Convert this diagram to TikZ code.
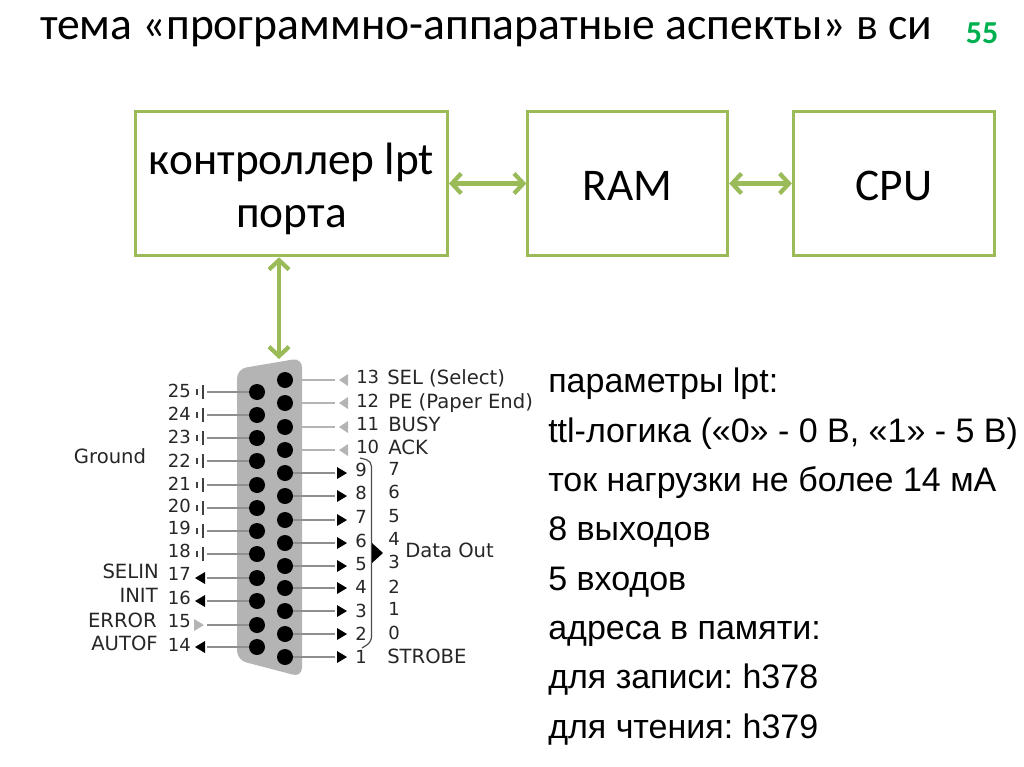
\documentclass[tikz,border=0pt]{standalone}
\usepackage{fontspec}
\setmainfont{Liberation Sans}
\newfontfamily\slidefont{Carlito}
\newfontfamily\pinfont{DejaVu Sans}
\usetikzlibrary{arrows.meta,positioning}
\definecolor{slidegreen}{HTML}{9BBB59}
\definecolor{pagegreen}{HTML}{00B050}
\definecolor{shellgray}{HTML}{B4B4B4}
\definecolor{leadgray}{HTML}{8E8E8E}
\frenchspacing

\begin{document}
\begin{tikzpicture}[
  x=0.75pt, y=-0.75pt,
  box/.style={draw=slidegreen, line width=2.2pt, align=center, minimum height=108.5pt, font=\slidefont\fontsize{34}{39.7}\selectfont},
  arrow/.style={{Straight Barb[length=7pt,width=15pt]}-{Straight Barb[length=7pt,width=15pt]}, slidegreen, line width=3.2pt},
  pin/.style={circle, fill=black, inner sep=0pt, minimum size=12pt},
  lead/.style={leadgray, line width=1.8pt},
  pinnum/.style={font=\pinfont\fontsize{13.5}{14}\selectfont, text=black!85, inner sep=0pt, text height=9.9pt, text depth=0pt},
  pinlabel/.style={font=\pinfont\fontsize{14.7}{16}\selectfont, text=black!85, inner sep=0pt, text height=10.7pt, text depth=0pt}
]
\useasboundingbox (0,0) rectangle (1024,767);
\node[font=\slidefont\fontsize{34.2}{40}\selectfont, anchor=west, inner sep=0pt] (title) at (40,32) {тема «программно-аппаратные аспекты» в си};
\node[font=\slidefont\bfseries\fontsize{24}{28}\selectfont, text=pagegreen, inner sep=0pt] (page) at (982,33) {55};

\node[box, minimum width=234pt] (lpt) at (291.5,183.5) {\rule{0pt}{32pt}контроллер lpt\\порта};
\node[box, minimum width=150pt, right=58pt of lpt, text height=25pt, text depth=0pt] (ram) {RAM};
\node[box, minimum width=151pt, right=47pt of ram, text height=25pt, text depth=0pt] (cpu) {CPU};
\coordinate (shelltop) at (279,359);
\draw[arrow] (lpt) -- (ram);
\draw[arrow] (ram) -- (cpu);
\draw[arrow] (lpt.south -| shelltop) -- (shelltop);

% connector body
\fill[shellgray, rounded corners=7pt] (237,369) -- (302,358) -- (302,677) -- (237,660) -- cycle;

% ground pins
\foreach \n/\y/\ty in {25/392/391,24/415/414,23/438/437,22/461/461,21/485/484,20/508/506,19/531/528,18/554/551} {
  \node[pin] (pin\n) at (257,\y) {};
  \coordinate (end\n) at (207,\y);
  \draw[lead] (pin\n) -- (end\n);
  \draw[black!75, line width=1.1pt] (203,\y-7) -- (203,\y+7);
  \draw[black!75, line width=1.1pt] (197,\y-3) -- (197,\y+3);
  \node[pinnum, anchor=east] (num\n) at (191,\ty) {\n};
}
% control pins on the lower row
\foreach \n/\y/\ty/\tipcol/\sx/\ex in {17/578/574/black/205/195,16/601/598/black/205/195,15/625/621/shellgray/194/204,14/647/645/black/205/195} {
  \node[pin] (pin\n) at (257,\y) {};
  \coordinate (end\n) at (207,\y);
  \draw[lead] (pin\n) -- (end\n);
  \fill[\tipcol] (\sx,\y-6) -- (\ex,\y) -- (\sx,\y+6) -- cycle;
  \node[pinnum, anchor=east] (num\n) at (191,\ty) {\n};
}
% status pins
\foreach \n/\y/\ty in {13/380/377,12/403/401,11/427/424,10/450/447} {
  \node[pin] (pin\n) at (285,\y) {};
  \coordinate (end\n) at (335,\y);
  \draw[lead, shellgray] (pin\n) -- (end\n);
  \fill[shellgray] (348,\y-6) -- (339,\y) -- (348,\y+6) -- cycle;
  \node[pinnum, anchor=west] (num\n) at (356,\ty) {\n};
}
% data pins
\foreach \n/\y/\ty/\bit/\by in {9/473/470/7/469,8/496/493/6/492,7/520/517/5/516,6/543/541/4/539,5/566/564/3/562,4/588/587/2/587,3/611/611/1/609,2/634/634/0/633,1/657/657//656} {
  \node[pin] (pin\n) at (285,\y) {};
  \coordinate (end\n) at (335,\y);
  \draw[lead] (pin\n) -- (end\n);
  \fill[black] (337,\y-6) -- (347,\y) -- (337,\y+6) -- cycle;
  \node[pinnum, anchor=west] (num\n) at (355,\ty) {\n};
  \node[pinnum] (bit\n) at (394,\by) {\bit};
}

\node[pinlabel] (ground) at (110,456) {Ground};
\node[pinlabel, anchor=east] (selin) at (159,571) {SELIN};
\node[pinlabel, anchor=east] (init) at (158,595) {INIT};
\node[pinlabel, anchor=east] (error) at (157,620) {ERROR};
\node[pinlabel, anchor=east] (autof) at (158,643) {AUTOF};
\node[pinlabel, anchor=west] (sel) at (387,377) {SEL (Select)};
\node[pinlabel, anchor=west] (pe) at (388,401) {PE (Paper End)};
\node[pinlabel, anchor=west] (busy) at (388,424) {BUSY};
\node[pinlabel, anchor=west] (ack) at (388,447) {ACK};
\node[pinlabel, anchor=west] (strobe) at (387,656) {STROBE};
\node[pinlabel, anchor=west] (dataout) at (405,550) {Data Out};

% bracket of the data lines
\draw[black!70, line width=0.9pt, rounded corners=4pt] (360,458) -- (371.5,461) -- (371.5,642) -- (362,648);
\fill[black] (372,543) -- (383,553) -- (372,563) -- cycle;

\node[anchor=north west, align=left, inner sep=0pt, font=\fontsize{25.5}{37}\selectfont] (params) at (548,368) {параметры lpt:\\ttl-логика («0» - 0 В, «1» - 5 В)\\ток нагрузки не более 14 мА\\8 выходов\\5 входов\\адреса в памяти:\\для записи: h378\\для чтения: h379};
\end{tikzpicture}
\end{document}
